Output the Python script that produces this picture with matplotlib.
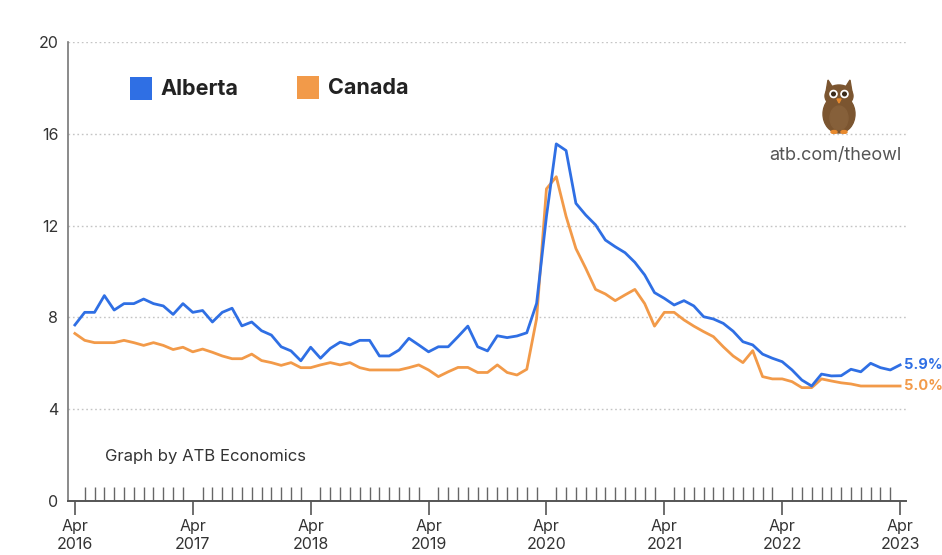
import matplotlib
matplotlib.use("Agg")
import matplotlib.pyplot as plt
from matplotlib.patches import Rectangle, Ellipse, Polygon, Circle
import numpy as np

plt.rcParams['font.family'] = ['Inter', 'DejaVu Sans']

# Monthly unemployment rate (%), Apr 2016 .. Apr 2023
alberta = [7.67, 8.22, 8.22, 8.95, 8.32, 8.6, 8.6, 8.8, 8.6, 8.5, 8.13, 8.6,
           8.22, 8.3, 7.8, 8.22, 8.4, 7.63, 7.8, 7.42, 7.23, 6.72, 6.54, 6.11,
           6.7, 6.22, 6.65, 6.92, 6.8, 7.0, 7.0, 6.32, 6.32, 6.58, 7.09, 6.8,
           6.5, 6.72, 6.72, 7.16, 7.62, 6.72, 6.54, 7.2, 7.12, 7.19, 7.33, 8.61,
           12.4, 15.56, 15.27, 12.97, 12.46, 12.03, 11.37, 11.08, 10.82, 10.4, 9.85, 9.08,
           8.83, 8.54, 8.73, 8.5, 8.03, 7.93, 7.74, 7.4, 6.94, 6.8, 6.4, 6.22,
           6.07, 5.71, 5.27, 5.01, 5.53, 5.45, 5.46, 5.74, 5.63, 6.0, 5.81, 5.71,
           5.93]
canada = [7.3, 7.0, 6.9, 6.9, 6.9, 7.0, 6.9, 6.78, 6.9, 6.78, 6.6, 6.7,
          6.5, 6.62, 6.48, 6.32, 6.2, 6.2, 6.4, 6.12, 6.03, 5.91, 6.03, 5.81,
          5.81, 5.93, 6.03, 5.93, 6.03, 5.81, 5.71, 5.71, 5.71, 5.71, 5.81, 5.93,
          5.71, 5.42, 5.63, 5.82, 5.82, 5.6, 5.6, 5.93, 5.6, 5.49, 5.74, 7.95,
          13.6, 14.13, 12.4, 11.0, 10.14, 9.22, 9.02, 8.73, 8.98, 9.22, 8.6, 7.62,
          8.22, 8.22, 7.89, 7.62, 7.38, 7.16, 6.72, 6.32, 6.03, 6.55, 5.42, 5.32,
          5.32, 5.2, 4.94, 4.94, 5.32, 5.23, 5.15, 5.1, 5.01, 5.01, 5.01, 5.01,
          5.01]
series_names = ["Alberta", "Canada"]
end_labels = ["5.9%", "5.0%"]
year_labels = ["Apr\n2016", "Apr\n2017", "Apr\n2018", "Apr\n2019",
               "Apr\n2020", "Apr\n2021", "Apr\n2022", "Apr\n2023"]
y_ticks = [0, 4, 8, 12, 16, 20]

BLUE = "#2f6fe4"
ORANGE = "#f29a49"
AXC = "#555555"
TXT = "#333333"

W, H = 942, 555
fig = plt.figure(figsize=(W / 100, H / 100), dpi=100)
ax = fig.add_axes([68 / W, 1 - 501 / H, (906 - 68) / W, (501 - 42) / H])

months = np.arange(len(alberta))
ax.plot(months, canada, color=ORANGE, lw=2.0, solid_joinstyle='round', zorder=3)
ax.plot(months, alberta, color=BLUE, lw=2.0, solid_joinstyle='round', zorder=4)

ax.set_xlim(-0.7, 84.6)
ax.set_ylim(0, 20)

# grid
for yv in y_ticks[1:]:
    ax.axhline(yv, color="#c4c4c4", lw=1.0, ls=(0, (1.2, 2.0)), zorder=1)

for s in ["top", "right"]:
    ax.spines[s].set_visible(False)
ax.spines["left"].set_color("#777777")
ax.spines["left"].set_linewidth(1.2)
ax.spines["bottom"].set_color(AXC)
ax.spines["bottom"].set_linewidth(1.4)

ax.set_yticks(y_ticks)
ax.set_yticklabels([str(v) for v in y_ticks])
ax.tick_params(axis="y", length=0, pad=7, labelsize=11.5, labelcolor=TXT)

major = np.arange(0, 85, 12)
minor = [m for m in range(1, 84) if m % 12 != 0]
ax.set_xticks(major)
ax.set_xticklabels(year_labels)
ax.set_xticks(minor, minor=True)
ax.tick_params(axis="x", which="major", direction="out", length=10, width=1.2,
               color=AXC, labelsize=11.5, labelcolor=TXT, pad=3)
ax.tick_params(axis="x", which="minor", direction="in", length=10, width=1.0,
               color="#666666")
for lab in ax.get_xticklabels():
    lab.set_linespacing(1.25)

# end labels
ax.annotate(end_labels[0], (months[-1], alberta[-1]), xytext=(3, 0),
            textcoords="offset points", color=BLUE, fontsize=10.5, fontweight="bold",
            va="center", ha="left", annotation_clip=False)
ax.annotate(end_labels[1], (months[-1], canada[-1]), xytext=(3, 0),
            textcoords="offset points", color=ORANGE, fontsize=10.5, fontweight="bold",
            va="center", ha="left", annotation_clip=False)

# legend
def fx(px):
    return px / W

def fy(py):
    return 1 - py / H

fig.patches.append(Rectangle((fx(130), fy(100)), 22 / W, 23 / H, transform=fig.transFigure,
                             facecolor=BLUE, edgecolor="none"))
fig.text(fx(160), fy(89), series_names[0], fontsize=15.5, fontweight="bold",
         color="#222222", va="center", ha="left")
fig.patches.append(Rectangle((fx(297), fy(99)), 22 / W, 23 / H, transform=fig.transFigure,
                             facecolor=ORANGE, edgecolor="none"))
fig.text(fx(328), fy(88), series_names[1], fontsize=15.5, fontweight="bold",
         color="#222222", va="center", ha="left")

# footer note
fig.text(fx(105), fy(456), "Graph by ATB Economics", fontsize=12, color=TXT,
         va="center", ha="left")
fig.text(fx(835), fy(155), "atb.com/theowl", fontsize=13, color="#555555",
         va="center", ha="center")

# owl icon
oax = fig.add_axes([fx(818), fy(134), 42 / W, 56 / H])
oax.set_xlim(0, 42)
oax.set_ylim(0, 56)
oax.axis("off")
oax.add_patch(Ellipse((21, 20), 32, 38, color="#7b5530"))
oax.add_patch(Ellipse((21, 38), 28, 22, color="#7b5530"))
oax.add_patch(Polygon([[8, 42], [10, 54], [15, 46]], color="#7b5530"))
oax.add_patch(Polygon([[34, 42], [32, 54], [27, 46]], color="#7b5530"))
oax.add_patch(Ellipse((21, 16), 18, 24, color="#86603a"))
oax.add_patch(Circle((15.5, 40), 3.6, color="white"))
oax.add_patch(Circle((26.5, 40), 3.6, color="white"))
oax.add_patch(Circle((15.5, 40), 1.8, color="#3a2a1a"))
oax.add_patch(Circle((26.5, 40), 1.8, color="#3a2a1a"))
oax.add_patch(Polygon([[19, 35], [23, 35], [21, 31]], color="#e88a2e"))
oax.add_patch(Ellipse((16, 2), 6, 3, color="#e88a2e"))
oax.add_patch(Ellipse((26, 2), 6, 3, color="#e88a2e"))

fig.savefig("out.png", dpi=100)
